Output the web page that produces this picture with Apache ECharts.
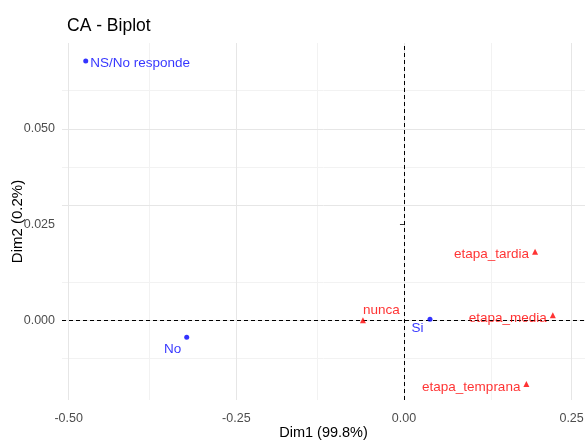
<!DOCTYPE html>
<html>
<head>
<meta charset="utf-8">
<script src="https://cdn.jsdelivr.net/npm/echarts@6/dist/echarts.min.js"></script>
<style>
html,body{margin:0;padding:0;background:#fff;}
#chart{width:585px;height:448px;}
</style>
</head>
<body>
<div id="chart"></div>
<script>
// ---- data ----
var rowNames = ['NS/No responde', 'No', 'Si'];
var rowDim1 = [-0.4746, -0.324, 0.0388];
var rowDim2 = [0.0677, -0.0044, 0.0003];

var colNames = ['nunca', 'etapa_tardia', 'etapa_media', 'etapa_temprana'];
var colDim1 = [-0.0612, 0.1955, 0.222, 0.1826];
var colDim2 = [0.0000, 0.0179, 0.0013, -0.0166];

var xTicks = [-0.50, -0.25, 0.00, 0.25];
var xTickLabels = ['-0.50', '-0.25', '0.00', '0.25'];
var xMinor = [-0.375, -0.125, 0.125];
var yTicks = [0.000, 0.025, 0.050];
var yTickLabels = ['0.000', '0.025', '0.050'];
var yMinor = [-0.0125, 0.0125, 0.0375, 0.0625];

// ---- label placement (style only) ----
var labelPlace = {
  'NS/No responde': {position: 'right', distance: 2, dx: 0, dy: 2},
  'No': {position: 'left', distance: 3, dx: 0, dy: 12},
  'Si': {position: 'left', distance: 4, dx: 0, dy: 9},
  'nunca': {position: 'right', distance: 0, dx: -3, dy: -10},
  'etapa_tardia': {position: 'left', distance: 3, dx: 0, dy: 3},
  'etapa_media': {position: 'left', distance: 3, dx: 0, dy: 3},
  'etapa_temprana': {position: 'left', distance: 3, dx: 0, dy: 3}
};

var FONT = "'Liberation Sans', Arial, sans-serif";

function buildData(names, xs, ys) {
  return names.map(function (n, i) {
    var p = labelPlace[n];
    return {
      name: n,
      value: [xs[i], ys[i]],
      label: {position: p.position, distance: p.distance}
    };
  });
}
function layoutFor(names) {
  return function (params) {
    var p = labelPlace[names[params.dataIndex]];
    return {dx: p.dx, dy: p.dy, hideOverlap: false};
  };
}

var xFmt = {}; xTicks.forEach(function (v, i) { xFmt[v.toFixed(3)] = xTickLabels[i]; });
var yFmt = {}; yTicks.forEach(function (v, i) { yFmt[v.toFixed(4)] = yTickLabels[i]; });

function vLines(vals) { return vals.map(function (v) { return {xAxis: v}; }); }
function hLines(vals) { return vals.map(function (v) { return {yAxis: v}; }); }

function lineHolder(lines, style, z) {
  return {
    type: 'scatter', data: [], silent: true, z: z, symbolSize: 0,
    markLine: {
      silent: true, symbol: ['none', 'none'], animation: false,
      label: {show: false}, emphasis: {disabled: true},
      lineStyle: style,
      data: lines
    }
  };
}

var chart = echarts.init(document.getElementById('chart'), null, {renderer: 'canvas'});
chart.setOption({
  animation: false,
  backgroundColor: '#ffffff',
  title: {
    text: 'CA - Biplot',
    left: 62, top: 12,
    textStyle: {fontFamily: FONT, fontSize: 17.5, fontWeight: 'normal', color: '#000'}
  },
  grid: {left: 62, right: 0, top: 43, bottom: 48, containLabel: false, outerBoundsMode: 'none'},
  xAxis: {
    type: 'value', min: -0.51, max: 0.27,
    name: 'Dim1 (99.8%)', nameLocation: 'middle', nameGap: 25, nameMoveOverlap: false,
    nameTextStyle: {fontFamily: FONT, fontSize: 14.5, color: '#000'},
    axisLine: {show: false},
    axisPointer: {show: false},
    axisTick: {show: true, customValues: xTicks, length: 4, lineStyle: {color: '#333', width: 1}},
    axisLabel: {
      customValues: xTicks, margin: 12,
      fontFamily: FONT, fontSize: 12.5, color: '#4d4d4d',
      formatter: function (v) { return xFmt[Number(v).toFixed(3)]; }
    },
    splitLine: {show: false}
  },
  yAxis: {
    type: 'value', min: -0.0208, max: 0.0724,
    name: 'Dim2 (0.2%)', nameLocation: 'middle', nameGap: 37, nameRotate: 90, nameMoveOverlap: false,
    nameTextStyle: {fontFamily: FONT, fontSize: 15, color: '#000'},
    axisLine: {show: false},
    axisPointer: {show: false},
    axisTick: {show: true, customValues: yTicks, length: 4, lineStyle: {color: '#333', width: 1}},
    axisLabel: {
      customValues: yTicks, margin: 7,
      fontFamily: FONT, fontSize: 12.5, color: '#4d4d4d',
      formatter: function (v) { return yFmt[Number(v).toFixed(4)]; }
    },
    splitLine: {show: false}
  },
  series: [
    lineHolder(vLines(xMinor).concat(hLines(yMinor)), {color: '#f2f2f2', width: 1, type: 'solid'}, 1),
    lineHolder(vLines(xTicks).concat(hLines(yTicks)), {color: '#e6e6e6', width: 1, type: 'solid'}, 1),
    lineHolder([{xAxis: 0}, {yAxis: 0}], {color: '#000', width: 1, type: [4, 3]}, 2),
    {
      name: 'rows', type: 'scatter', z: 5,
      symbol: 'circle', symbolSize: 5,
      itemStyle: {color: '#0000ff'},
      label: {show: true, formatter: '{b}', color: '#0000ff', fontFamily: FONT, fontSize: 13.5},
      labelLayout: layoutFor(rowNames),
      data: buildData(rowNames, rowDim1, rowDim2)
    },
    {
      name: 'cols', type: 'scatter', z: 5,
      symbol: 'triangle', symbolSize: 6,
      itemStyle: {color: '#ff0000'},
      label: {show: true, formatter: '{b}', color: '#ff0000', fontFamily: FONT, fontSize: 13.5},
      labelLayout: layoutFor(colNames),
      data: buildData(colNames, colDim1, colDim2)
    }
  ]
});
</script>
</body>
</html>
